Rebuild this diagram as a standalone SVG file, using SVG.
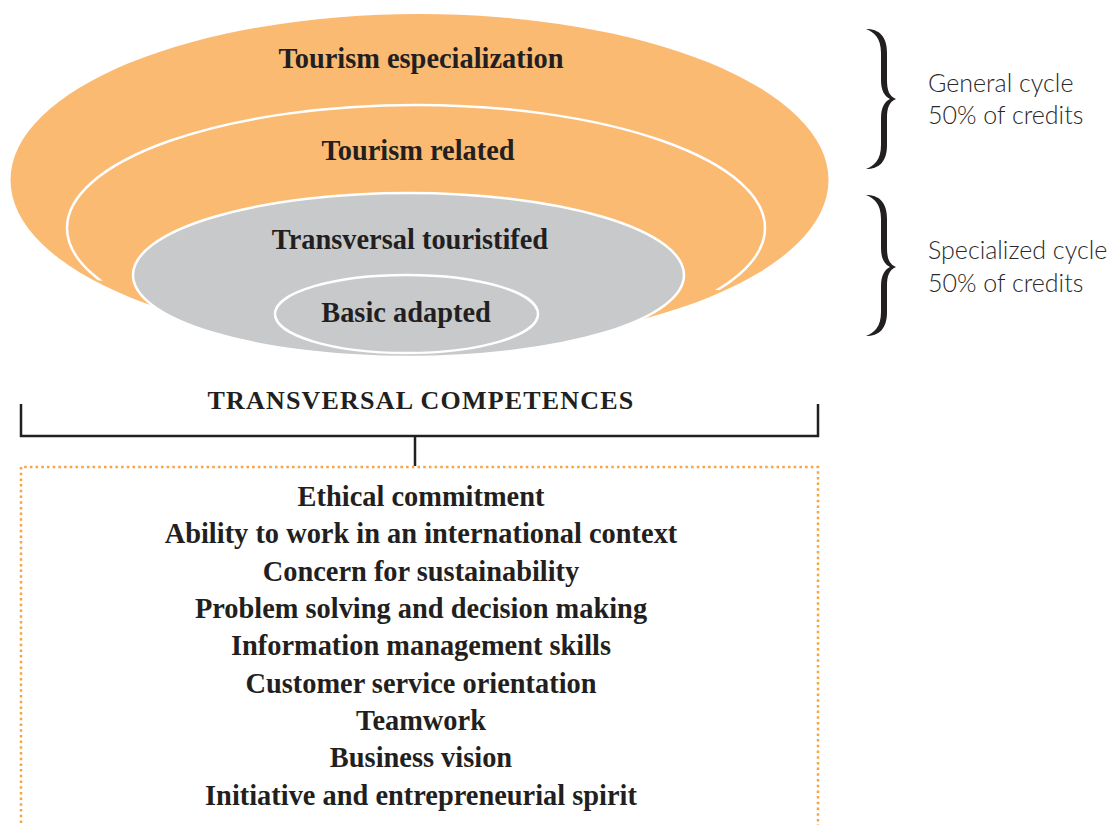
<svg xmlns="http://www.w3.org/2000/svg" width="1112" height="825" viewBox="0 0 1112 825">
  <style>
    .label { font-family: "Liberation Serif", "Times New Roman", serif; font-weight: bold; font-size: 28.4px; fill: #231f20; text-anchor: middle; }
    .side { font-family: "Lato", "Open Sans", sans-serif; font-weight: 300; font-size: 25px; fill: #2a2829; }
    .ring { stroke: #ffffff; stroke-width: 2.5; }
    .orange { fill: #fbba72; }
    .grey { fill: #c8c9cb; }
    .brace { fill: #231f20; }
    .bracket { fill: none; stroke: #231f20; stroke-width: 2.5; }
  </style>
  <defs>
    <clipPath id="upper-band">
      <polygon points="0,0 1112,0 1112,296 0,279"/>
    </clipPath>
  </defs>
  <rect width="1112" height="825" fill="#ffffff"/>

  <g id="tourism-especialization">
    <ellipse class="orange" cx="419.5" cy="180" rx="409" ry="166"/>
    <text class="label" x="421" y="68">Tourism especialization</text>
  </g>

  <g id="tourism-related">
    <ellipse class="orange ring" cx="416" cy="228" rx="349" ry="123" clip-path="url(#upper-band)"/>
    <text class="label" x="418" y="160">Tourism related</text>
  </g>

  <g id="transversal-touristifed">
    <ellipse class="grey ring" cx="408.5" cy="275" rx="275.5" ry="82"/>
    <text class="label" x="410" y="249">Transversal touristifed</text>
  </g>

  <g id="basic-adapted">
    <ellipse class="grey ring" cx="406.5" cy="314" rx="131.5" ry="39"/>
    <text class="label" x="406" y="322">Basic adapted</text>
  </g>

  <g id="general-cycle">
    <path class="brace" d="M866,29 C879,29 887,36 887,53 L887,80 C887,90 889,96 896,99 C889,102 887,108 887,118 L887,145 C887,162 879,169 866,169 C874,166 881,160 881,145 L881,118 C881,108 884,102 890,99 C884,96 881,90 881,80 L881,53 C881,38 874,32 866,29 Z"/>
    <text class="side" x="928" y="92">General cycle</text>
    <text class="side" x="928" y="124">50% of credits</text>
  </g>

  <g id="specialized-cycle">
    <path class="brace" d="M866,195 C879,195 887,202 887,219 L887,248 C887,258 889,264 896,267 C889,270 887,276 887,286 L887,312 C887,329 879,336 866,336 C874,333 881,327 881,312 L881,286 C881,276 884,270 890,267 C884,264 881,258 881,248 L881,219 C881,204 874,198 866,195 Z"/>
    <text class="side" x="928" y="259">Specialized cycle</text>
    <text class="side" x="928" y="292">50% of credits</text>
  </g>

  <g id="transversal-competences">
    <text class="label" x="421" y="409" style="font-size:26px; letter-spacing:1.2px">TRANSVERSAL COMPETENCES</text>
  </g>

  <g id="connectors">
    <path class="bracket" d="M21,404 V436 H818 V404"/>
    <line class="bracket" x1="415" y1="436" x2="415" y2="466"/>
  </g>

  <g id="competence-list">
    <path d="M21,840 V467 H818 V840" fill="none" stroke="#f7a443" stroke-width="2.5" stroke-dasharray="2.5 3.2"/>
    <text class="label" x="421" y="506">Ethical commitment</text>
    <text class="label" x="421" y="543">Ability to work in an international context</text>
    <text class="label" x="421" y="581">Concern for sustainability</text>
    <text class="label" x="421" y="618">Problem solving and decision making</text>
    <text class="label" x="421" y="655">Information management skills</text>
    <text class="label" x="421" y="693">Customer service orientation</text>
    <text class="label" x="421" y="730">Teamwork</text>
    <text class="label" x="421" y="767">Business vision</text>
    <text class="label" x="421" y="805">Initiative and entrepreneurial spirit</text>
  </g>
</svg>
